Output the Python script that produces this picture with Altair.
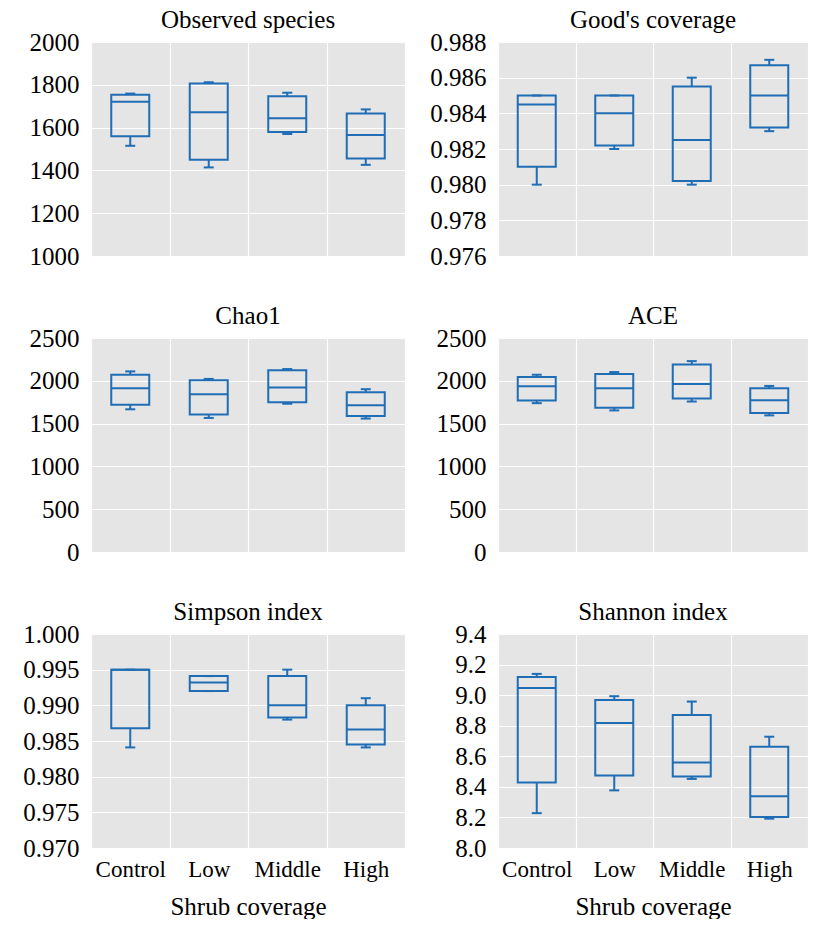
import altair as alt
import pandas as pd

groups = ["Control", "Low", "Middle", "High"]

# Observed species
obs_min = [1515, 1414, 1570, 1426]
obs_q1 = [1560, 1450, 1580, 1456]
obs_med = [1721, 1672, 1644, 1565]
obs_q3 = [1753, 1806, 1747, 1666]
obs_max = [1759, 1812, 1763, 1685]
obs_ticks = [1000, 1200, 1400, 1600, 1800, 2000]

# Good's coverage
good_min = [0.9800, 0.9820, 0.9800, 0.9830]
good_q1 = [0.9810, 0.9822, 0.9802, 0.9832]
good_med = [0.9845, 0.9840, 0.9825, 0.9850]
good_q3 = [0.9850, 0.9850, 0.9855, 0.9867]
good_max = [0.9850, 0.9850, 0.9860, 0.9870]
good_ticks = [0.976, 0.978, 0.980, 0.982, 0.984, 0.986, 0.988]

# Chao1
chao_min = [1667, 1566, 1732, 1559]
chao_q1 = [1721, 1605, 1748, 1590]
chao_med = [1914, 1844, 1921, 1713]
chao_q3 = [2072, 2006, 2122, 1867]
chao_max = [2110, 2022, 2137, 1902]
chao_ticks = [0, 500, 1000, 1500, 2000, 2500]

# ACE
ace_min = [1739, 1654, 1758, 1596]
ace_q1 = [1770, 1685, 1793, 1623]
ace_med = [1936, 1913, 1963, 1774]
ace_q3 = [2044, 2079, 2191, 1913]
ace_max = [2071, 2102, 2230, 1940]
ace_ticks = [0, 500, 1000, 1500, 2000, 2500]

# Simpson index
simp_min = [0.9841, 0.9920, 0.9880, 0.9841]
simp_q1 = [0.9868, 0.9920, 0.9883, 0.9845]
simp_med = [0.9950, 0.9932, 0.9900, 0.9866]
simp_q3 = [0.9950, 0.9941, 0.9941, 0.9900]
simp_max = [0.9950, 0.9941, 0.9950, 0.9910]
simp_ticks = [0.970, 0.975, 0.980, 0.985, 0.990, 0.995, 1.000]

# Shannon index
shan_min = [8.228, 8.377, 8.452, 8.192]
shan_q1 = [8.429, 8.474, 8.467, 8.202]
shan_med = [9.047, 8.818, 8.560, 8.338]
shan_q3 = [9.118, 8.969, 8.870, 8.663]
shan_max = [9.139, 8.993, 8.958, 8.728]
shan_ticks = [8.0, 8.2, 8.4, 8.6, 8.8, 9.0, 9.2, 9.4]

BLUE = "#1f6db5"
FONT = "Times New Roman, Liberation Serif, DejaVu Serif, serif"
PH = 214


def panel(title, mn, q1, md, q3, mx, ticks, fmt, bottom, w):
    df = pd.DataFrame({"group": groups, "mn": mn, "q1": q1, "md": md,
                       "q3": q3, "mx": mx})
    if bottom:
        xaxis = alt.Axis(title="Shrub coverage", labelAngle=0, tickBand="extent",
                         grid=True, ticks=False, domain=False, labelPadding=10,
                         titlePadding=13, labelFont=FONT, labelFontSize=23,
                         titleFont=FONT, titleFontSize=25, titleFontWeight="normal",
                         labelColor="black", titleColor="black",
                         gridColor="white", gridWidth=1.2)
    else:
        xaxis = alt.Axis(title=None, labels=False, tickBand="extent", grid=True,
                         ticks=False, domain=False, gridColor="white",
                         gridWidth=1.2, minExtent=0, maxExtent=0)
    x = alt.X("group:N", sort=groups,
              scale=alt.Scale(paddingInner=0, paddingOuter=0), axis=xaxis)
    yscale = alt.Scale(domain=[ticks[0], ticks[-1]], nice=False, zero=False)
    yaxis = alt.Axis(title=None, values=ticks, format=fmt, grid=True, ticks=False,
                     domain=False, labelPadding=12, labelFont=FONT,
                     labelFontSize=25, labelColor="black", gridColor="white",
                     gridWidth=1.2, minExtent=83, maxExtent=83)
    base = alt.Chart(df)
    lower = base.mark_rule(color=BLUE, strokeWidth=2).encode(
        x=x, y=alt.Y("mn:Q", scale=yscale, axis=yaxis), y2="q1:Q")
    upper = base.mark_rule(color=BLUE, strokeWidth=2).encode(
        x=x, y=alt.Y("q3:Q", scale=yscale, axis=yaxis), y2="mx:Q")
    box = base.mark_bar(size=38, fillOpacity=0, stroke=BLUE, strokeWidth=2).encode(
        x=x, y=alt.Y("q1:Q", scale=yscale, axis=yaxis), y2="q3:Q")
    med = base.mark_tick(size=38, thickness=2, color=BLUE, opacity=1).encode(
        x=x, y=alt.Y("md:Q", scale=yscale, axis=yaxis))
    capl = base.mark_tick(size=10, thickness=2, color=BLUE, opacity=1).encode(
        x=x, y=alt.Y("mn:Q", scale=yscale, axis=yaxis))
    caph = base.mark_tick(size=10, thickness=2, color=BLUE, opacity=1).encode(
        x=x, y=alt.Y("mx:Q", scale=yscale, axis=yaxis))
    return alt.layer(lower, upper, box, med, capl, caph).properties(
        width=w, height=PH,
        title=alt.TitleParams(text=title, font=FONT, fontSize=25,
                              fontWeight="normal", color="black", offset=-3,
                              anchor="middle"))


p1 = panel("Observed species", obs_min, obs_q1, obs_med, obs_q3, obs_max,
           obs_ticks, "d", False, 314)
p2 = panel("Good's coverage", good_min, good_q1, good_med, good_q3, good_max,
           good_ticks, ".3f", False, 310)
p3 = panel("Chao1", chao_min, chao_q1, chao_med, chao_q3, chao_max,
           chao_ticks, "d", False, 314)
p4 = panel("ACE", ace_min, ace_q1, ace_med, ace_q3, ace_max,
           ace_ticks, "d", False, 310)
p5 = panel("Simpson index", simp_min, simp_q1, simp_med, simp_q3, simp_max,
           simp_ticks, ".3f", True, 314)
p6 = panel("Shannon index", shan_min, shan_q1, shan_med, shan_q3, shan_max,
           shan_ticks, ".1f", True, 310)

chart = alt.vconcat(
    alt.hconcat(p1, p2, spacing=10),
    alt.hconcat(p3, p4, spacing=10),
    alt.hconcat(p5, p6, spacing=10),
    spacing=35,
).configure(font=FONT).configure_title(
    font=FONT, fontWeight="normal"
).configure_axis(titleFont=FONT, labelFont=FONT).configure_view(
    fill="#e5e5e5", stroke=None).properties(
    padding={"left": 0, "top": 0, "right": 0, "bottom": 0},
    background="white")

chart.save("out.html", embed_options={"renderer": "svg", "actions": False})
